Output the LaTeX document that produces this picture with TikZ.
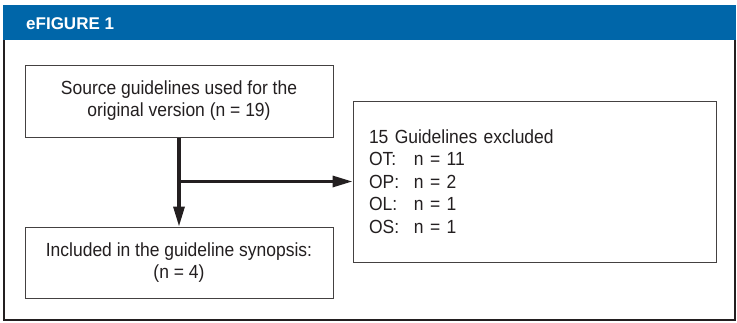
\documentclass[tikz,border=0pt]{standalone}
\usepackage{fontspec}
\setmainfont[FakeStretch=0.92]{Liberation Sans}
\newfontfamily\titlefont{Liberation Sans}
\usetikzlibrary{arrows.meta}
\definecolor{hdrblue}{HTML}{0066A9}
\definecolor{ink}{HTML}{231F20}
\begin{document}
\begin{tikzpicture}[x=1pt,y=-1pt,
  box/.style={draw=ink!85,line width=1pt,text=ink,inner sep=0pt,
    font=\fontsize{19}{22}\selectfont},
  conn/.style={draw=ink,line width=3.2pt,-{Triangle[length=20pt,width=11pt]}}]
\useasboundingbox (0,0) rectangle (737,322);
\fill[white] (0,0) rectangle (737,322);
% frame
\draw[ink,line width=2.2pt] (4,30) -- (4,320) -- (735,320) -- (735,30);
\fill[hdrblue] (3,5) rectangle (736,39.5);
\node[anchor=base west,text=white,inner sep=0pt,font=\titlefont\fontsize{17}{20}\bfseries\selectfont] (title) at (26,29) {eFIGURE 1};
% boxes
\node[box,minimum width=308pt,minimum height=72pt,align=center] (src) at (179,101)
  {Source guidelines used for the\\original version (n = 19)};
\node[box,minimum width=308pt,minimum height=71pt,align=center] (inc) at (179,262.5)
  {Included in the guideline synopsis:\\(n = 4)};
\node[box,minimum width=363pt,minimum height=161pt,text width=331pt,inner xsep=16pt,align=left,
  font=\fontsize{19}{22.5}\selectfont] (exc) at (534.5,181.5)
  {15 Guidelines excluded\\
   \makebox[45pt][l]{OT:}n = 11\\
   \makebox[45pt][l]{OP:}n = 2\\
   \makebox[45pt][l]{OL:}n = 1\\
   \makebox[45pt][l]{OS:}n = 1};
% connectors
\coordinate (br) at (179,181.5);
\draw[conn] (src.south) -- (inc.north);
\draw[conn] (br) -- (exc.west);
\end{tikzpicture}
\end{document}
